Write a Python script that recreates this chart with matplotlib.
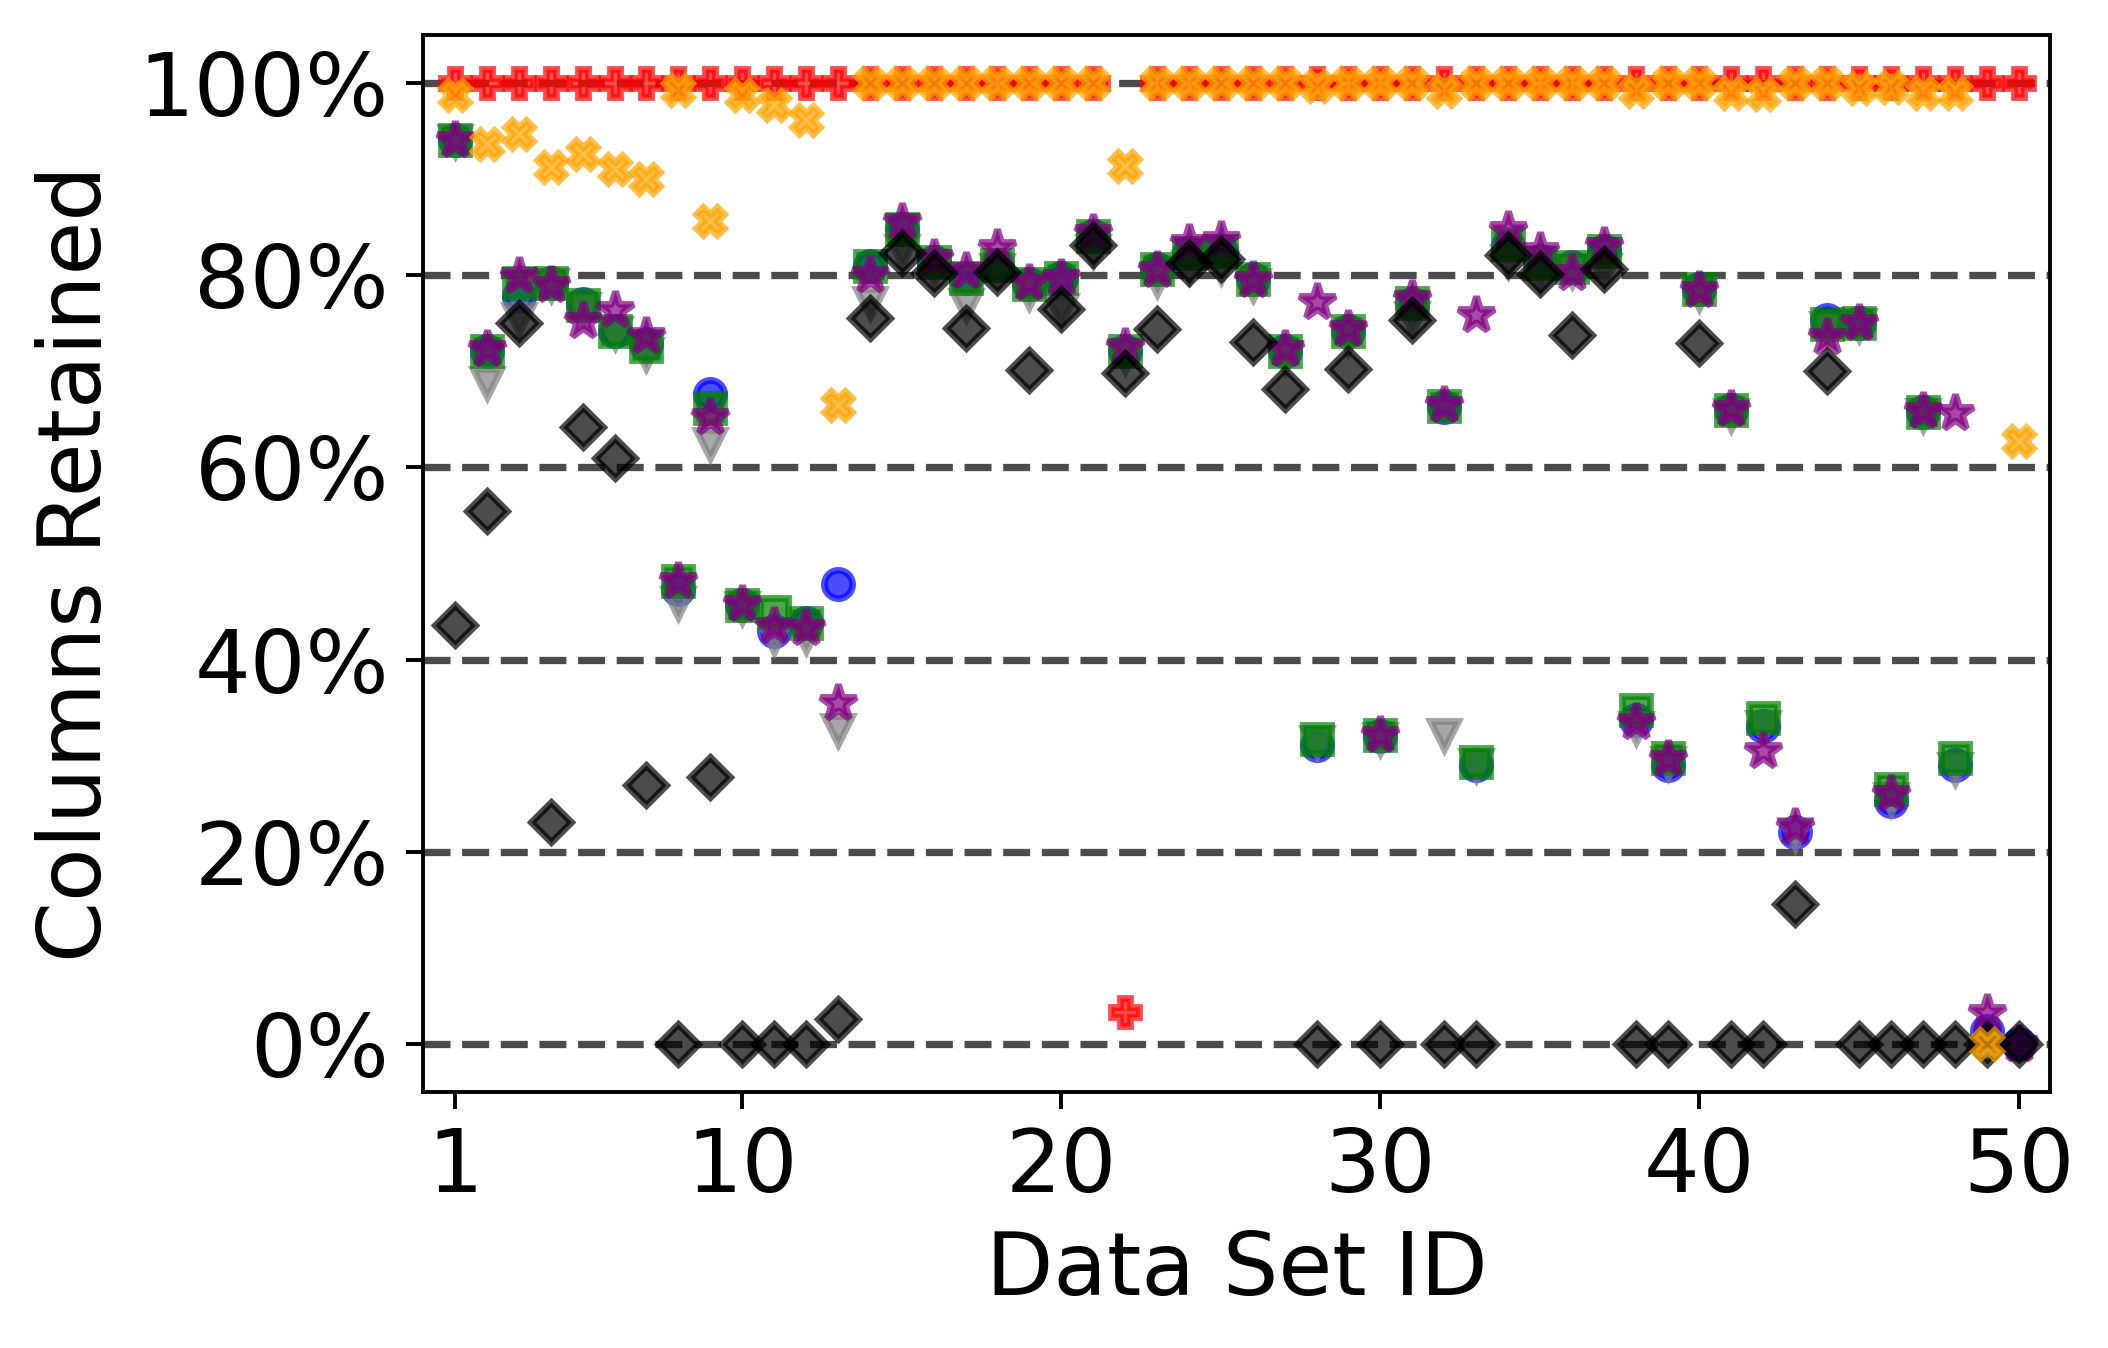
import numpy as np
import matplotlib
matplotlib.use("Agg")
import matplotlib.pyplot as plt
from matplotlib.ticker import PercentFormatter

nan = np.nan

# data set ids 1..50, values in percent of columns retained
ids = list(range(1, 51))

blue_circle = [94.1, 72.1, 77.8, 79.2, 77.0, 74.2, 72.8, 47.3, 67.6, 45.7,
               43.0, 43.8, 47.9, 81.0, 84.8, 81.4, 79.7, 81.1, 79.1, 79.7,
               84.1, 72.1, 80.7, 82.3, 82.5, 79.6, 72.1, 31.1, 74.2, 32.0,
               77.0, 66.3, 29.0, 83.0, 81.5, 80.9, 82.5, 33.7, 29.0, 78.6,
               66.0, 33.1, 22.1, 75.3, 75.0, 25.3, 65.8, 29.0, 1.3, 0.0]

gray_tri = [94.0, 68.8, 75.4, 79.0, 76.5, 74.0, 71.8, 45.9, 62.4, 45.4,
            42.2, 42.3, 32.7, 77.1, 82.5, 80.5, 76.9, 80.5, 78.2, 76.4,
            82.5, 71.5, 79.5, 80.9, 80.9, 79.0, 71.5, 31.4, 73.5, 31.7,
            75.5, 32.1, 29.0, 81.5, 80.0, 80.4, 80.5, 32.9, 29.2, 78.0,
            65.5, 33.0, 21.8, 74.5, 74.8, 25.5, 65.5, 28.6, nan, nan]

green_sq = [94.1, 72.1, 79.2, 79.2, 76.9, 74.2, 72.6, 48.2, 66.2, 45.7,
            45.0, 43.8, nan, 81.0, 84.8, 81.4, 79.7, 81.1, 79.1, 79.7,
            84.1, 72.1, 80.7, 82.3, 82.5, 79.6, 72.1, 31.7, 74.2, 32.1,
            77.1, 66.4, 29.3, 83.2, 81.3, 80.9, 82.5, 34.7, 29.8, 78.6,
            66.0, 33.9, nan, 74.9, 75.0, 26.5, 65.8, 29.8, nan, nan]

purple_star = [94.1, 72.3, 79.9, 79.0, 75.2, 76.4, 73.7, 48.2, 65.2, 45.8,
               43.5, 43.3, 35.5, 80.0, 85.5, 81.8, 80.4, 82.8, 79.2, 79.7,
               84.4, 72.5, 80.5, 83.4, 83.7, 79.5, 72.3, 77.2, 74.4, 32.1,
               77.5, 66.5, 75.9, 84.7, 82.5, 80.2, 83.0, 33.5, 29.6, 78.5,
               66.1, 30.5, 22.6, 73.6, 75.0, 26.0, 65.9, 65.7, 3.2, 0.0]

black_diamond = [43.6, 55.5, 75.0, 23.1, 64.2, 61.0, 26.9, 0.0, 27.8, 0.0,
                 0.0, 0.0, 2.6, 75.6, 82.3, 80.2, 74.5, 80.3, 70.1, 76.5,
                 83.1, 69.8, 74.4, 81.3, 81.7, 73.0, 68.2, 0.0, 70.2, 0.0,
                 75.3, 0.0, 0.0, 82.1, 80.1, 73.8, 80.7, 0.0, 0.0, 72.9,
                 0.0, 0.0, 14.6, 70.0, 0.0, 0.0, 0.0, 0.0, 0.0, 0.0]

red_plus = [100.0] * 21 + [3.3] + [100.0] * 28

orange_x = [98.8, 93.7, 94.7, 91.3, 92.6, 91.1, 90.0, 99.3, 85.6, 98.8,
            97.7, 96.2, 66.5, 100.0, 100.0, 100.0, 100.0, 100.0, 100.0, 100.0,
            100.0, 91.4, 100.0, 100.0, 100.0, 100.0, 100.0, 99.7, 100.0, 100.0,
            100.0, 99.2, 100.0, 100.0, 100.0, 100.0, 100.0, 99.2, 100.0, 100.0,
            99.0, 98.9, 100.0, 100.0, 99.5, 99.6, 99.0, 99.0, 0.0, 62.7]

series = [
    (blue_circle, 'o', 'blue'),
    (gray_tri, 'v', 'gray'),
    (green_sq, 's', 'green'),
    (purple_star, '*', 'purple'),
    (black_diamond, 'D', 'black'),
    (red_plus, 'P', 'red'),
    (orange_x, 'X', 'orange'),
]

plt.rcParams['font.size'] = 18

fig = plt.figure(figsize=(2108 / 350, 1348 / 350), dpi=350)
ax = fig.add_axes([0.2007, 0.190, 0.772, 0.784])

for vals, mk, col in series:
    # star glyph reads small next to the others, bump it
    ms = 7.8 if mk == '*' else 5.8
    ax.plot(ids, vals, linestyle='None', marker=mk, color=col,
            markersize=ms, markeredgewidth=1.4, alpha=0.7)

ax.set_xlim(0, 51)
ax.set_ylim(-5, 105)
ax.set_xticks([1, 10, 20, 30, 40, 50])
ax.set_yticks([0, 20, 40, 60, 80, 100])
ax.yaxis.set_major_formatter(PercentFormatter(100, decimals=0))
ax.yaxis.grid(True, linestyle='--', linewidth=1.5, color='black', alpha=0.7)
ax.set_axisbelow(True)

ax.set_xlabel('Data Set ID')
ax.set_ylabel('Columns Retained')

fig.savefig('out.png', dpi=350)
